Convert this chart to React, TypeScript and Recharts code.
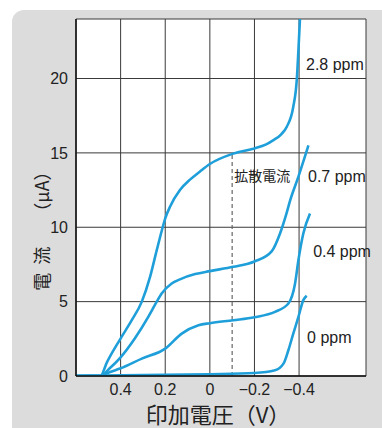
import React from 'react';
import { LineChart, Line, XAxis, YAxis, CartesianGrid, ReferenceLine, ReferenceDot, Label } from 'recharts';

// applied voltage (V) / current (µA)
const v28 = [0.6, 0.49, 0.462, 0.403, 0.35, 0.305, 0.268, 0.238, 0.215, 0.2, 0.178, 0.134, 0.089, 0.044, 0, -0.105, -0.2, -0.25, -0.285, -0.32, -0.345, -0.374, -0.39, -0.397, -0.404];
const i28 = [0, 0, 0.9, 2.45, 3.75, 5.0, 6.66, 8.46, 9.8, 10.6, 11.4, 12.5, 13.2, 13.75, 14.25, 14.95, 15.3, 15.55, 15.86, 16.25, 16.76, 18.1, 19.97, 21.9, 24];

const v07 = [0.6, 0.49, 0.45, 0.403, 0.335, 0.276, 0.238, 0.216, 0.171, 0.134, 0.066, 0, -0.105, -0.2, -0.278, -0.315, -0.345, -0.36, -0.397, -0.442];
const i07 = [0, 0, 0.5, 1.2, 2.55, 3.97, 5.0, 5.55, 6.22, 6.5, 6.85, 7.05, 7.34, 7.7, 8.4, 9.6, 11.0, 11.8, 13.4, 15.5];

const v04 = [0.6, 0.49, 0.45, 0.403, 0.305, 0.2, 0.126, 0.051, 0, -0.105, -0.2, -0.292, -0.352, -0.382, -0.397, -0.419, -0.449];
const i04 = [0, 0, 0.25, 0.5, 1.17, 1.84, 2.85, 3.41, 3.55, 3.75, 3.95, 4.31, 4.87, 6.22, 7.79, 9.58, 10.93];

const v00 = [0.6, 0.49, 0.3, 0, -0.2, -0.292, -0.33, -0.352, -0.374, -0.397, -0.419, -0.434];
const i00 = [0.02, 0.03, 0.06, 0.12, 0.2, 0.38, 0.83, 1.73, 2.85, 3.97, 5.1, 5.4];

const seriesNames = ['2.8 ppm', '0.7 ppm', '0.4 ppm', '0 ppm'];
const labelV = [-0.431, -0.44, -0.463, -0.436];
const labelI = [20.57, 13.03, 7.98, 2.2];

const xTicks = [0.4, 0.2, 0, -0.2, -0.4];
const yTicks = [0, 5, 10, 15, 20];
const diffusionV = -0.1;
const diffusionI = 14.95;

const toPoints = (v: number[], i: number[]) => v.map((x, k) => ({ v: x, i: i[k] }));
const series = [toPoints(v28, i28), toPoints(v07, i07), toPoints(v04, i04), toPoints(v00, i00)];

const BLUE = '#1f9fd9';
const FONT = '"Liberation Sans", Arial, "Noto Sans CJK JP", sans-serif';
const CJK = '"Noto Sans CJK JP", sans-serif';

const fmtX = (v: number) => (v < 0 ? '\u2212' + Math.abs(v) : String(v));

export default function App() {
  return (
    <div style={{ position: 'absolute', left: 0, top: 0, width: 382, height: 428, background: '#fff' }}>
      <div style={{ position: 'absolute', left: 12, top: 10, width: 370, height: 418, background: '#dcdcdc', borderTopLeftRadius: 12 }} />
      <div style={{ position: 'absolute', left: 0, top: 0 }}>
        <LineChart width={382} height={428} margin={{ top: 19, right: 16, left: 16, bottom: 0 }}>
          <CartesianGrid stroke="#3a3a3a" strokeWidth={1} fill="#fff" />
          <XAxis
            type="number"
            dataKey="v"
            domain={[-0.7, 0.6]}
            reversed
            allowDataOverflow
            ticks={xTicks}
            interval={0}
            tickFormatter={fmtX}
            tickLine={false}
            axisLine={{ stroke: '#111', strokeWidth: 1.5 }}
            tick={{ fontSize: 16, fill: '#222', fontFamily: FONT }}
            height={52}
          >
            <Label
              content={(p: any) => {
                const vb = p.viewBox;
                return (
                  <text x={vb.x + vb.width / 2 - 3} y={vb.y + vb.height - 5} textAnchor="middle" fontSize={22} fill="#222" fontFamily={CJK}>
                    印加電圧（V）
                  </text>
                );
              }}
            />
          </XAxis>
          <YAxis
            type="number"
            domain={[0, 24]}
            allowDataOverflow
            ticks={yTicks}
            interval={0}
            tickLine={false}
            axisLine={{ stroke: '#111', strokeWidth: 1.5 }}
            tick={{ fontSize: 16, fill: '#222', fontFamily: FONT }}
            width={60}
          >
            <Label
              content={(p: any) => {
                const vb = p.viewBox;
                const cx = vb.x + 25;
                const cy = vb.y + vb.height / 2 + 29;
                return (
                  <text x={cx} y={cy} transform={`rotate(-90, ${cx}, ${cy})`} textAnchor="middle" dominantBaseline="central" fontSize={18} fill="#222" fontFamily={CJK}>
                    <tspan>電</tspan>
                    <tspan dx={8}>流</tspan>
                    <tspan dx={26}>（μA）</tspan>
                  </text>
                );
              }}
            />
          </YAxis>
          <ReferenceLine
            segment={[{ x: diffusionV, y: 0 }, { x: diffusionV, y: diffusionI }]}
            stroke="#666"
            strokeWidth={1.2}
            strokeDasharray="4 3"
          />
          {series.map((d, k) => (
            <Line
              key={seriesNames[k]}
              data={d}
              dataKey="i"
              type="monotone"
              stroke={BLUE}
              strokeWidth={2.6}
              dot={false}
              isAnimationActive={false}
            />
          ))}
          <ReferenceDot
            x={diffusionV}
            y={diffusionI}
            r={1}
            fill="none"
            stroke="none"
            label={{
              content: (p: any) => (
                <text x={p.viewBox.x + 3} y={p.viewBox.y + 28} fontSize={14} fill="#222" fontFamily={CJK}>
                  拡散電流
                </text>
              ),
            }}
          />
          {seriesNames.map((name, k) => (
            <ReferenceDot
              key={'lbl' + k}
              x={labelV[k]}
              y={labelI[k]}
              r={1}
              fill="none"
              stroke="none"
              label={{
                content: (p: any) => (
                  <text x={p.viewBox.x + 1} y={p.viewBox.y + 1} fontSize={16} fill="#222" fontFamily={FONT}>
                    {name}
                  </text>
                ),
              }}
            />
          ))}
        </LineChart>
      </div>
    </div>
  );
}
